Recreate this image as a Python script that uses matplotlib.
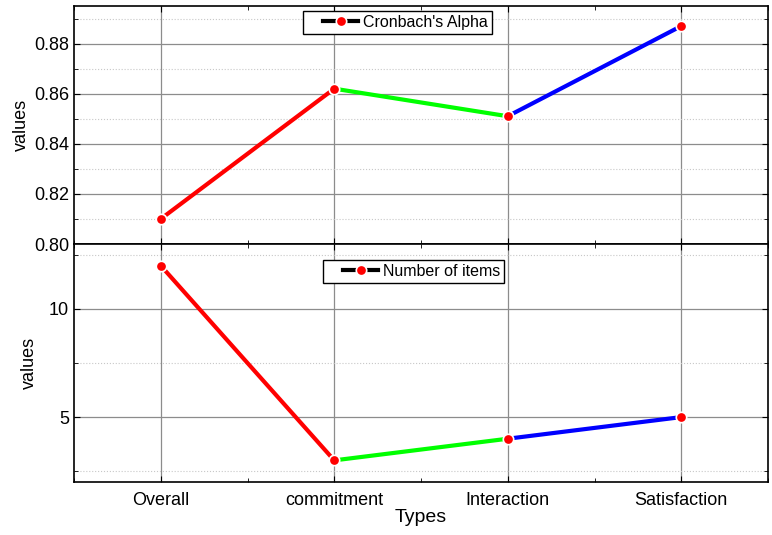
import matplotlib
matplotlib.use('Agg')
import matplotlib.pyplot as plt
from matplotlib.lines import Line2D
from matplotlib.legend_handler import HandlerLine2D
from matplotlib.ticker import MultipleLocator
import numpy as np

plt.rcParams['font.family'] = ['Liberation Sans', 'DejaVu Sans']

types = ['Overall', 'commitment', 'Interaction', 'Satisfaction']
alpha_vals = [0.810, 0.862, 0.851, 0.887]
item_counts = [12, 3, 4, 5]
seg_colors = ['#ff0000', '#00ff00', '#0000ff']

x = np.arange(len(types))


class IndentedLine(HandlerLine2D):
    # leave some blank room before the legend sample line
    def create_artists(self, legend, orig_handle, xdescent, ydescent, width,
                       height, fontsize, trans):
        shift = 1.0 * fontsize
        return super().create_artists(legend, orig_handle, xdescent - shift,
                                      ydescent, width - shift, height,
                                      fontsize, trans)


fig = plt.figure(figsize=(7.72, 5.35), dpi=100)
ax1 = fig.add_axes([74 / 772, 1 - 244 / 535, 694 / 772, 238 / 535])
ax2 = fig.add_axes([74 / 772, 1 - 482 / 535, 694 / 772, 238 / 535], sharex=ax1)


def draw_series(ax, vals, label, anchor):
    for i in range(len(vals) - 1):
        ax.plot(x[i:i + 2], vals[i:i + 2], color=seg_colors[i], lw=3, zorder=3,
                solid_capstyle='butt')
    ax.plot(x, vals, ls='none', marker='o', ms=7.5, mfc='#ff0000',
            mec='white', mew=1.2, zorder=4)
    handle = Line2D([], [], color='black', lw=3, marker='o', ms=7.5,
                    mfc='#ff0000', mec='white', mew=1.2)
    leg = ax.legend([handle], [label], loc='upper left', bbox_to_anchor=anchor,
                    handler_map={Line2D: IndentedLine()},
                    fontsize=11.5, frameon=True, fancybox=False,
                    edgecolor='black', handlelength=3.2, handletextpad=0.3,
                    borderpad=0.25, borderaxespad=0, framealpha=1)
    leg.get_frame().set_linewidth(1.0)


draw_series(ax1, alpha_vals, "Cronbach's Alpha", (0.33, 0.979))
draw_series(ax2, item_counts, 'Number of items', (0.359, 0.933))

ax1.set_ylim(0.80, 0.895)
ax1.yaxis.set_minor_locator(MultipleLocator(0.01))
ax1.set_yticks([0.80, 0.82, 0.84, 0.86, 0.88])
ax1.set_yticklabels(['0.80', '0.82', '0.84', '0.86', '0.88'])

ax2.set_ylim(2, 13)
ax2.yaxis.set_major_locator(MultipleLocator(5))
ax2.yaxis.set_minor_locator(MultipleLocator(2.5))

ax2.set_xlim(-0.5, 3.5)
ax2.set_xticks(x)
ax2.set_xticklabels(types)
ax2.xaxis.set_minor_locator(MultipleLocator(0.5))
ax1.tick_params(axis='x', labelbottom=False)

for ax in (ax1, ax2):
    ax.grid(True, which='major', color='#8c8c8c', lw=0.9)
    ax.grid(True, which='minor', axis='y', color='#c8c8c8', lw=0.8, ls=':')
    ax.set_axisbelow(True)
    ax.tick_params(which='both', direction='in', right=True, top=True,
                   labelsize=13, length=4)
    ax.tick_params(which='minor', length=3)
    for sp in ax.spines.values():
        sp.set_linewidth(1.2)
    ax.set_ylabel('values', fontsize=13)

ax2.tick_params(axis='x', pad=7)
ax1.yaxis.set_label_coords(-0.064, 0.5)
ax2.yaxis.set_label_coords(-0.052, 0.5)
ax2.set_xlabel('Types', fontsize=14, labelpad=0)

fig.savefig('out.png', dpi=100)
